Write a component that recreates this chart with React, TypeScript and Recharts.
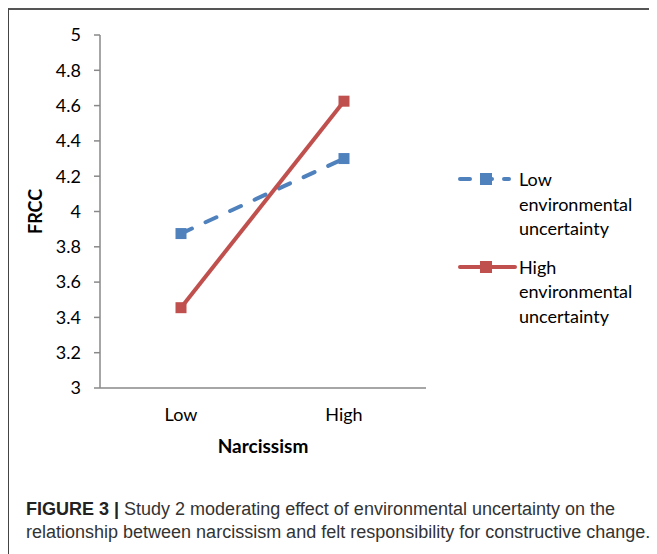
import { LineChart, Line, XAxis, YAxis, Legend, Label } from "recharts";

const categories = ["Low", "High"];
const lowUncertainty = [3.875, 4.3];
const highUncertainty = [3.455, 4.625];
const yTicks = [3, 3.2, 3.4, 3.6, 3.8, 4, 4.2, 4.4, 4.6, 4.8, 5];

const seriesNames = [
  "Low environmental uncertainty",
  "High environmental uncertainty",
];

const data = categories.map((c, i) => ({
  name: c,
  low: lowUncertainty[i],
  high: highUncertainty[i],
}));

const BLUE = "#4F81BD";
const RED = "#C0504D";
const FONT = "Lato, 'Open Sans', sans-serif";

const SquareDot = (props: any) => {
  const { cx, cy, fill } = props;
  if (cx == null || cy == null) return null;
  return <rect x={cx - 5.5} y={cy - 5.5} width={11} height={11} fill={fill} />;
};

const LegendContent = () => {
  const items = [
    { color: BLUE, dash: "10 12", len: 51, lines: ["Low", "environmental", "uncertainty"] },
    { color: RED, dash: undefined, len: 57, lines: ["High", "environmental", "uncertainty"] },
  ];
  return (
    <div style={{ fontFamily: FONT, fontSize: 18, color: "#000" }}>
      {items.map((it, i) => (
        <div key={i} style={{ display: "flex", marginBottom: 14 }}>
          <svg width={61} height={24} style={{ flex: "none" }}>
            <line
              x1={2}
              y1={12}
              x2={it.len}
              y2={12}
              stroke={it.color}
              strokeWidth={4}
              strokeDasharray={it.dash}
              strokeLinecap="round"
            />
            <rect x={22} y={6} width={12} height={12} fill={it.color} />
          </svg>
          <div style={{ lineHeight: "24.5px" }}>
            {it.lines.map((l, j) => (
              <div key={j}>{l}</div>
            ))}
          </div>
        </div>
      ))}
    </div>
  );
};

export default function App() {
  return (
    <div
      style={{
        width: 660,
        height: 560,
        borderTop: "2px solid #555",
        borderLeft: "1px solid #444",
        boxSizing: "border-box",
        position: "relative",
      }}
    >
      <LineChart
        width={640}
        height={458}
        data={data}
        margin={{ top: 25, right: 223, bottom: 10, left: 0 }}
        style={{ fontFamily: FONT }}
      >
        <XAxis
          dataKey="name"
          padding={{ left: 81, right: 82 }}
          axisLine={{ stroke: "#888", strokeWidth: 1.5 }}
          tickLine={false}
          tickSize={0}
          tickMargin={20}
          height={70}
          tick={{ fill: "#000", fontSize: 18 }}
        >
          <Label
            value="Narcissism"
            position="insideBottom"
            offset={5}
            style={{ fontWeight: 700, fontSize: 19, fill: "#000" }}
          />
        </XAxis>
        <YAxis
          domain={[3, 5]}
          ticks={yTicks}
          interval={0}
          width={91}
          axisLine={{ stroke: "#888", strokeWidth: 1.5 }}
          tickLine={{ stroke: "#888", strokeWidth: 1.5 }}
          tickSize={6}
          tickMargin={13}
          tick={{ fill: "#000", fontSize: 18 }}
        >
          <Label
            value="FRCC"
            angle={-90}
            position="insideLeft"
            offset={27}
            style={{ textAnchor: "middle", fontWeight: 700, fontSize: 18, fill: "#000" }}
          />
        </YAxis>
        <Legend
          layout="vertical"
          align="center"
          verticalAlign="middle"
          wrapperStyle={{ left: 449, top: 157, width: 200 }}
          content={<LegendContent />}
        />
        <Line
          type="linear"
          dataKey="low"
          name={seriesNames[0]}
          stroke={BLUE}
          strokeWidth={4}
          strokeDasharray="12 15"
          strokeLinecap="round"
          dot={<SquareDot fill={BLUE} />}
          activeDot={false}
          isAnimationActive={false}
        />
        <Line
          type="linear"
          dataKey="high"
          name={seriesNames[1]}
          stroke={RED}
          strokeWidth={4}
          dot={<SquareDot fill={RED} />}
          activeDot={false}
          isAnimationActive={false}
        />
      </LineChart>
      <div
        style={{
          position: "absolute",
          left: 17,
          top: 488,
          width: 640,
          whiteSpace: "nowrap",
          fontFamily: "'Liberation Sans', Arial, sans-serif",
          fontSize: 18,
          lineHeight: "23px",
          color: "#333",
        }}
      >
        <b style={{ color: "#222" }}>FIGURE 3 |</b> Study 2 moderating effect of environmental uncertainty on the
        <br />
        relationship between narcissism and felt responsibility for constructive change.
      </div>
    </div>
  );
}
